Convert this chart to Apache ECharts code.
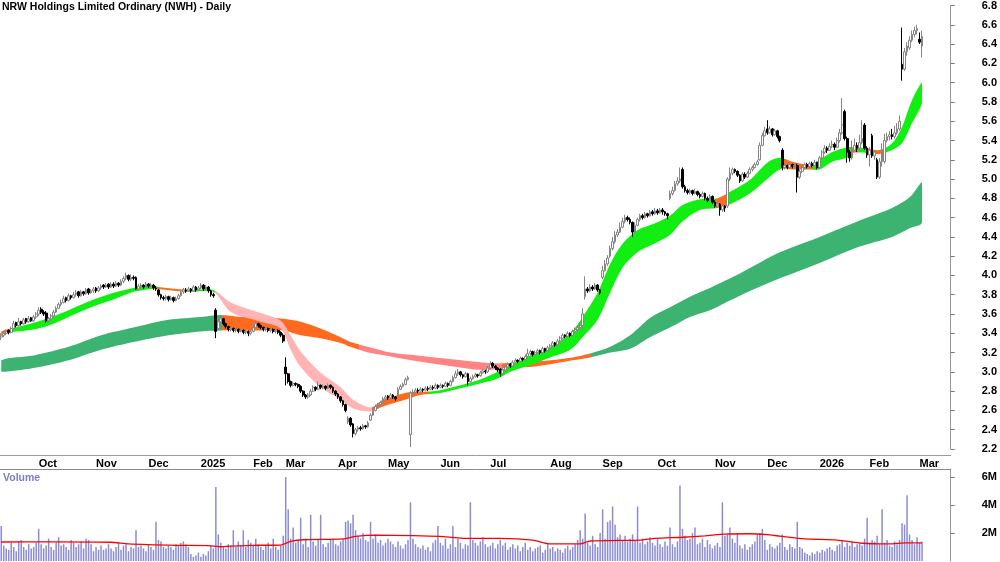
<!DOCTYPE html>
<html>
<head>
    <meta charset="UTF-8">
    <script src="https://cdn.jsdelivr.net/npm/echarts@6/dist/echarts.min.js"></script>
    <style>html, body { margin: 0; padding: 0; background: #fff; }</style>
</head>
<body>
<div id="chartMain" style="width: 1000px; height: 562px;"></div>

<script type="text/javascript">
    // month labels and the bar index where each month begins
    var monthLabels = ['Oct', 'Nov', 'Dec', '2025', 'Feb', 'Mar', 'Apr', 'May', 'Jun', 'Jul', 'Aug', 'Sep', 'Oct', 'Nov', 'Dec', '2026', 'Feb', 'Mar'];
    var monthStart = [15, 38, 59, 80, 101, 114, 135, 155, 176, 196, 220, 241, 263, 286, 307, 328, 348, 368];

    // daily bars: [open, close, low, high]
    var bars = [
        [3.36,3.38,3.33,3.40],[3.38,3.40,3.36,3.42],[3.40,3.42,3.38,3.44],[3.43,3.41,3.39,3.44],[3.41,3.45,3.40,3.47],[3.45,3.50,3.44,3.53],[3.51,3.48,3.46,3.52],[3.48,3.52,3.47,3.56],[3.52,3.50,3.48,3.53],[3.50,3.54,3.49,3.56],
        [3.55,3.52,3.50,3.56],[3.52,3.55,3.51,3.58],[3.56,3.53,3.52,3.57],[3.53,3.57,3.52,3.59],[3.57,3.60,3.55,3.62],[3.60,3.64,3.58,3.67],[3.65,3.62,3.60,3.67],[3.62,3.60,3.58,3.64],[3.61,3.53,3.51,3.63],[3.53,3.55,3.51,3.57],
        [3.55,3.58,3.54,3.60],[3.58,3.62,3.57,3.64],[3.62,3.66,3.61,3.68],[3.66,3.70,3.65,3.72],[3.70,3.72,3.68,3.75],[3.72,3.76,3.71,3.79],[3.77,3.74,3.72,3.78],[3.74,3.79,3.73,3.81],[3.79,3.77,3.75,3.80],[3.77,3.80,3.76,3.83],
        [3.80,3.82,3.78,3.85],[3.83,3.79,3.77,3.84],[3.79,3.83,3.78,3.85],[3.83,3.81,3.79,3.84],[3.81,3.85,3.80,3.87],[3.86,3.82,3.80,3.87],[3.82,3.84,3.81,3.86],[3.84,3.86,3.82,3.88],[3.87,3.84,3.82,3.88],[3.84,3.87,3.83,3.89],
        [3.87,3.89,3.85,3.91],[3.90,3.88,3.86,3.91],[3.88,3.90,3.87,3.92],[3.91,3.88,3.86,3.92],[3.88,3.91,3.87,3.93],[3.91,3.89,3.87,3.93],[3.89,3.92,3.88,3.94],[3.92,3.90,3.88,3.93],[3.90,3.94,3.89,3.96],[3.94,3.97,3.92,3.99],
        [3.97,4.00,3.95,4.03],[4.00,3.96,3.94,4.01],[3.96,3.98,3.94,4.01],[3.98,3.97,3.95,4.00],[3.98,3.86,3.85,3.99],[3.86,3.89,3.85,3.91],[3.89,3.90,3.87,3.92],[3.90,3.88,3.86,3.91],[3.88,3.91,3.87,3.93],[3.91,3.89,3.87,3.92],
        [3.89,3.90,3.88,3.92],[3.90,3.87,3.85,3.91],[3.87,3.86,3.84,3.89],[3.85,3.80,3.78,3.86],[3.80,3.77,3.75,3.81],[3.77,3.76,3.74,3.79],[3.76,3.78,3.74,3.80],[3.78,3.75,3.73,3.79],[3.75,3.77,3.74,3.79],[3.77,3.74,3.72,3.78],
        [3.74,3.76,3.73,3.78],[3.76,3.79,3.75,3.81],[3.79,3.83,3.78,3.85],[3.83,3.85,3.81,3.87],[3.85,3.84,3.82,3.87],[3.84,3.86,3.83,3.88],[3.86,3.84,3.82,3.87],[3.84,3.88,3.83,3.90],[3.88,3.85,3.83,3.89],[3.85,3.87,3.84,3.89],
        [3.87,3.90,3.86,3.92],[3.90,3.86,3.84,3.91],[3.86,3.88,3.85,3.90],[3.88,3.84,3.82,3.89],[3.84,3.80,3.78,3.85],[3.80,3.79,3.77,3.82],[3.64,3.42,3.35,3.66],[3.45,3.52,3.44,3.55],[3.52,3.55,3.50,3.57],[3.55,3.50,3.48,3.56],
        [3.50,3.47,3.45,3.51],[3.47,3.44,3.42,3.48],[3.44,3.45,3.42,3.47],[3.45,3.43,3.41,3.46],[3.43,3.44,3.41,3.46],[3.44,3.42,3.40,3.45],[3.42,3.43,3.41,3.45],[3.43,3.41,3.39,3.44],[3.41,3.42,3.39,3.44],[3.42,3.40,3.37,3.43],
        [3.40,3.42,3.38,3.44],[3.42,3.46,3.41,3.48],[3.46,3.50,3.45,3.53],[3.50,3.48,3.46,3.51],[3.48,3.46,3.44,3.49],[3.46,3.44,3.42,3.47],[3.44,3.45,3.42,3.47],[3.45,3.43,3.41,3.46],[3.43,3.44,3.41,3.46],[3.44,3.42,3.40,3.45],
        [3.42,3.43,3.40,3.45],[3.43,3.41,3.39,3.44],[3.41,3.38,3.36,3.42],[3.38,3.32,3.30,3.40],[3.05,2.98,2.86,3.15],[2.98,2.90,2.88,2.99],[2.90,2.86,2.84,2.91],[2.86,2.88,2.85,2.90],[2.88,2.87,2.85,2.89],[2.87,2.85,2.83,2.88],
        [2.85,2.80,2.78,2.86],[2.80,2.76,2.74,2.81],[2.76,2.74,2.72,2.77],[2.74,2.76,2.72,2.78],[2.76,2.80,2.75,2.82],[2.80,2.84,2.79,2.86],[2.84,2.82,2.80,2.85],[2.82,2.86,2.81,2.90],[2.86,2.84,2.82,2.87],[2.84,2.85,2.82,2.87],
        [2.85,2.83,2.81,2.86],[2.83,2.86,2.82,2.88],[2.86,2.84,2.82,2.87],[2.84,2.80,2.78,2.85],[2.80,2.77,2.75,2.81],[2.77,2.74,2.72,2.78],[2.74,2.70,2.68,2.75],[2.70,2.66,2.64,2.71],[2.66,2.60,2.58,2.67],[2.48,2.52,2.46,2.54],
        [2.52,2.45,2.43,2.53],[2.46,2.36,2.32,2.47],[2.36,2.40,2.34,2.42],[2.40,2.42,2.38,2.44],[2.42,2.41,2.39,2.44],[2.41,2.44,2.40,2.46],[2.44,2.43,2.41,2.45],[2.43,2.47,2.42,2.49],[2.50,2.55,2.49,2.57],[2.55,2.60,2.54,2.62],
        [2.60,2.64,2.59,2.66],[2.64,2.66,2.62,2.68],[2.66,2.68,2.64,2.70],[2.68,2.72,2.67,2.74],[2.72,2.74,2.70,2.76],[2.75,2.73,2.71,2.76],[2.73,2.76,2.72,2.78],[2.76,2.74,2.72,2.77],[2.74,2.72,2.70,2.75],[2.76,2.82,2.75,2.84],
        [2.82,2.85,2.81,2.87],[2.85,2.87,2.84,2.89],[2.87,2.92,2.86,2.94],[2.92,2.94,2.91,2.96],[2.35,2.78,2.22,2.80],[2.78,2.79,2.76,2.82],[2.79,2.81,2.77,2.83],[2.81,2.80,2.78,2.83],[2.80,2.82,2.78,2.84],[2.82,2.81,2.79,2.83],
        [2.81,2.83,2.80,2.85],[2.83,2.82,2.80,2.85],[2.82,2.84,2.81,2.86],[2.84,2.83,2.81,2.86],[2.83,2.86,2.82,2.88],[2.86,2.84,2.82,2.87],[2.84,2.86,2.83,2.88],[2.86,2.85,2.83,2.87],[2.85,2.88,2.84,2.90],[2.88,2.86,2.84,2.89],
        [2.86,2.90,2.85,2.92],[2.90,2.94,2.89,2.96],[2.94,2.98,2.93,3.01],[2.98,3.00,2.96,3.03],[3.00,2.97,2.95,3.01],[2.97,2.95,2.93,2.98],[2.95,2.98,2.94,3.00],[2.98,2.90,2.86,2.99],[2.90,2.93,2.89,2.95],[2.93,2.95,2.92,2.97],
        [2.95,2.97,2.94,2.99],[2.97,2.96,2.94,2.98],[2.96,2.99,2.95,3.01],[2.99,3.01,2.98,3.03],[3.01,3.00,2.98,3.02],[3.00,3.04,2.99,3.06],[3.04,3.08,3.03,3.11],[3.09,3.06,3.04,3.10],[3.06,3.04,3.02,3.07],[3.04,3.02,3.00,3.05],
        [3.03,2.98,2.95,3.04],[2.98,3.02,2.97,3.04],[3.02,3.05,3.01,3.07],[3.05,3.08,3.04,3.10],[3.08,3.06,3.04,3.09],[3.06,3.10,3.05,3.12],[3.10,3.12,3.09,3.14],[3.12,3.11,3.09,3.13],[3.11,3.14,3.10,3.16],[3.14,3.13,3.11,3.15],
        [3.13,3.16,3.12,3.18],[3.16,3.19,3.15,3.24],[3.19,3.21,3.17,3.23],[3.21,3.18,3.16,3.22],[3.18,3.20,3.17,3.22],[3.20,3.22,3.19,3.24],[3.22,3.20,3.18,3.23],[3.20,3.24,3.19,3.26],[3.24,3.22,3.20,3.25],[3.22,3.25,3.21,3.27],
        [3.25,3.27,3.24,3.29],[3.27,3.30,3.26,3.32],[3.30,3.28,3.26,3.31],[3.28,3.32,3.27,3.34],[3.32,3.35,3.31,3.37],[3.35,3.38,3.34,3.40],[3.38,3.37,3.35,3.39],[3.37,3.40,3.36,3.42],[3.40,3.38,3.36,3.41],[3.38,3.42,3.37,3.44],
        [3.42,3.44,3.41,3.46],[3.44,3.46,3.43,3.48],[3.46,3.48,3.44,3.51],[3.48,3.60,3.43,3.66],[3.78,3.86,3.75,3.99],[3.86,3.84,3.82,3.88],[3.84,3.88,3.83,3.91],[3.88,3.86,3.84,3.90],[3.86,3.90,3.85,3.92],[3.90,3.85,3.83,3.91],
        [3.85,3.82,3.80,3.86],[3.98,4.05,3.96,4.10],[4.05,4.12,4.04,4.16],[4.12,4.18,4.10,4.21],[4.20,4.28,4.18,4.31],[4.28,4.35,4.26,4.40],[4.35,4.42,4.33,4.46],[4.42,4.45,4.40,4.48],[4.45,4.50,4.44,4.55],[4.50,4.56,4.49,4.60],
        [4.56,4.60,4.54,4.63],[4.60,4.58,4.56,4.62],[4.58,4.55,4.53,4.60],[4.55,4.45,4.40,4.56],[4.45,4.52,4.44,4.55],[4.52,4.58,4.51,4.60],[4.58,4.62,4.56,4.64],[4.62,4.60,4.58,4.64],[4.60,4.64,4.59,4.66],[4.64,4.62,4.60,4.65],
        [4.62,4.66,4.61,4.68],[4.66,4.64,4.62,4.68],[4.64,4.67,4.63,4.70],[4.67,4.65,4.63,4.69],[4.65,4.68,4.64,4.70],[4.68,4.66,4.63,4.70],[4.66,4.64,4.62,4.67],[4.64,4.62,4.58,4.65],[4.80,4.85,4.78,4.88],[4.85,4.88,4.83,4.92],
        [4.88,4.95,4.87,4.98],[4.95,4.98,4.93,5.02],[4.98,5.00,4.96,5.12],[5.10,4.92,4.90,5.12],[4.92,4.88,4.86,4.94],[4.88,4.86,4.84,4.90],[4.86,4.88,4.84,4.90],[4.88,4.85,4.83,4.89],[4.85,4.87,4.84,4.90],[4.87,4.84,4.82,4.88],
        [4.84,4.82,4.80,4.86],[4.82,4.85,4.81,4.87],[4.85,4.80,4.78,4.86],[4.80,4.78,4.76,4.82],[4.78,4.82,4.77,4.84],[4.82,4.76,4.74,4.83],[4.76,4.72,4.70,4.78],[4.72,4.74,4.70,4.76],[4.74,4.68,4.62,4.75],[4.68,4.72,4.66,4.74],
        [4.72,4.70,4.66,4.73],[4.72,5.00,4.70,5.02],[5.00,5.06,4.98,5.12],[5.06,5.10,5.04,5.12],[5.10,5.08,5.06,5.11],[5.08,5.04,5.02,5.09],[5.04,4.98,4.96,5.05],[4.98,5.05,4.97,5.07],[5.05,5.02,5.00,5.07],[5.02,5.06,5.01,5.08],
        [5.06,5.10,5.05,5.12],[5.10,5.12,5.08,5.14],[5.12,5.15,5.11,5.17],[5.15,5.18,5.14,5.20],[5.20,5.35,5.19,5.38],[5.35,5.45,5.34,5.48],[5.45,5.50,5.44,5.54],[5.52,5.48,5.46,5.61],[5.48,5.52,5.47,5.55],[5.52,5.46,5.44,5.53],
        [5.46,5.50,5.45,5.52],[5.50,5.44,5.42,5.51],[5.44,5.40,5.38,5.45],[5.30,5.12,5.09,5.32],[5.12,5.14,5.10,5.16],[5.14,5.12,5.10,5.15],[5.12,5.15,5.11,5.17],[5.15,5.13,5.11,5.16],[5.13,5.14,5.11,5.17],[5.14,5.02,4.86,5.16],
        [5.02,5.08,5.00,5.10],[5.08,5.12,5.06,5.14],[5.12,5.15,5.10,5.17],[5.15,5.13,5.11,5.17],[5.13,5.16,5.12,5.18],[5.16,5.14,5.12,5.18],[5.14,5.17,5.13,5.20],[5.17,5.12,5.10,5.18],[5.12,5.22,5.11,5.24],[5.22,5.28,5.20,5.30],
        [5.28,5.32,5.26,5.35],[5.32,5.30,5.27,5.34],[5.30,5.34,5.29,5.37],[5.34,5.36,5.32,5.40],[5.36,5.33,5.30,5.38],[5.33,5.40,5.32,5.43],[5.40,5.48,5.38,5.52],[5.48,5.56,5.46,5.84],[5.70,5.42,5.40,5.72],[5.42,5.28,5.17,5.44],
        [5.28,5.22,5.18,5.30],[5.22,5.30,5.20,5.40],[5.30,5.35,5.28,5.42],[5.35,5.32,5.28,5.38],[5.32,5.38,5.30,5.46],[5.38,5.42,5.36,5.61],[5.56,5.32,5.30,5.58],[5.32,5.25,5.22,5.34],[5.25,5.30,5.13,5.33],[5.45,5.24,5.22,5.47],
        [5.24,5.28,5.20,5.30],[5.20,5.02,5.00,5.22],[5.02,5.18,5.00,5.22],[5.18,5.30,5.13,5.37],[5.18,5.40,5.16,5.47],[5.40,5.44,5.38,5.48],[5.44,5.46,5.40,5.50],[5.46,5.44,5.41,5.52],[5.44,5.48,5.42,5.55],[5.48,5.52,5.46,5.58],
        [5.52,5.60,5.50,5.66],[6.19,6.14,6.02,6.57],[6.14,6.32,6.12,6.36],[6.32,6.38,6.28,6.42],[6.36,6.44,6.34,6.48],[6.44,6.50,6.42,6.54],[6.50,6.54,6.47,6.58],[6.54,6.56,6.50,6.60],[6.45,6.42,6.40,6.52],[6.38,6.48,6.26,6.54]
    ];

    // daily volume, millions of shares
    var volumeM = [
        2.5, 1.1, 0.9, 0.8, 1.3, 1.0, 0.7, 1.4, 1.5, 1.0,
        0.8, 1.2, 0.9, 1.0, 1.3, 2.3, 1.2, 0.9, 1.1, 1.6,
        1.0, 0.8, 1.3, 1.7, 1.1, 1.2, 1.0, 0.8, 1.5, 1.3,
        1.0, 1.2, 1.4, 0.9, 1.6, 1.5, 1.2, 0.7, 1.0, 0.8,
        1.1, 0.8, 0.9, 1.2, 0.9, 0.7, 1.0, 1.3, 0.8, 1.1,
        1.2, 0.7, 1.0, 0.9, 2.2, 1.0, 1.1, 0.9, 0.7, 1.2,
        1.0, 0.8, 2.8, 1.5, 1.4, 1.0, 0.9, 1.1, 1.0, 0.8,
        1.2, 1.1, 1.3, 1.4, 1.2, 1.0, 0.5, 0.3, 0.4, 0.6,
        0.3, 0.5, 0.4, 0.7, 1.1, 0.9, 5.3, 1.9, 1.3, 1.0,
        0.9, 1.2, 1.1, 2.2, 1.0, 1.4, 1.1, 2.2, 1.0, 1.5,
        1.3, 1.1, 1.6, 1.2, 1.0, 0.8, 1.1, 1.3, 0.9, 1.6,
        1.0, 0.8, 1.1, 1.8, 6.0, 3.7, 1.6, 2.4, 1.3, 1.5,
        3.1, 1.2, 1.6, 1.0, 3.3, 1.4, 1.1, 1.5, 3.3, 1.2,
        1.0, 1.3, 1.5, 1.6, 1.2, 1.1, 1.4, 1.6, 2.8, 2.9,
        2.7, 3.3, 2.2, 1.8, 1.6, 2.0, 1.5, 1.4, 2.8, 1.6,
        1.9, 1.3, 1.5, 1.1, 1.3, 1.6, 1.4, 1.2, 1.0, 1.4,
        1.1, 0.9, 1.2, 1.5, 4.2, 1.6, 1.2, 1.0, 0.9, 1.1,
        0.8, 1.0, 0.7, 1.3, 1.5, 2.5, 1.3, 1.1, 1.6, 0.9,
        1.2, 2.5, 1.0, 1.6, 1.3, 0.9, 1.2, 1.1, 4.2, 1.5,
        1.3, 1.1, 1.4, 1.7, 1.2, 1.0, 1.1, 1.3, 0.9, 1.2,
        1.5, 1.1, 1.3, 0.8, 1.0, 1.2, 0.9, 1.1, 0.7, 1.0,
        1.3, 0.8, 1.0, 0.7, 0.9, 1.0, 1.1, 0.6, 0.8, 1.2,
        0.9, 1.0, 0.7, 0.9, 0.8, 0.6, 0.9, 1.1, 0.8, 1.0,
        1.2, 1.5, 2.2, 1.6, 3.4, 1.3, 1.1, 1.8, 1.2, 1.0,
        2.0, 3.7, 1.6, 2.8, 2.9, 3.9, 2.6, 1.7, 1.9, 1.5,
        1.8, 1.4, 1.6, 1.9, 1.5, 3.9, 1.3, 1.6, 1.2, 1.4,
        1.7, 1.3, 1.1, 1.6, 1.2, 1.0, 1.4, 1.1, 2.4, 1.2,
        1.0, 1.4, 5.4, 2.3, 1.8, 1.5, 1.6, 2.0, 2.4, 1.2,
        1.3, 1.6, 1.0, 1.5, 1.2, 0.9, 1.1, 1.3, 1.0, 4.2,
        1.8, 1.9, 2.4, 1.6, 1.3, 2.0, 1.1, 0.9, 1.2, 0.8,
        1.0, 1.2, 1.4, 1.9, 2.0, 2.3, 1.5, 0.8, 1.2, 1.0,
        0.9, 1.1, 1.3, 1.9, 1.0, 0.8, 1.2, 1.0, 0.9, 2.8,
        1.0, 0.9, 0.6, 0.5, 0.4, 0.6, 0.5, 0.7, 0.6, 0.8,
        0.7, 0.9, 1.0, 0.8, 0.7, 1.1, 1.2, 1.5, 1.0, 1.3,
        1.1, 1.4, 1.0, 1.2, 1.3, 1.1, 1.6, 3.1, 1.3, 1.5,
        1.4, 1.8, 1.2, 3.7, 1.3, 1.5, 1.1, 1.0, 1.4, 1.2,
        1.5, 2.7, 2.6, 4.7, 1.9, 1.5, 1.2, 1.7, 1.3, 1.4
    ];

    // short-term moving average band, read at these bar indices
    var shortIdx = [0, 4, 13, 19, 27, 36, 45, 53, 60, 63, 70, 76, 85, 92, 104, 112, 116, 120, 128, 136, 141, 148, 153, 159, 164, 168, 176, 184, 192, 199, 204, 212, 220, 228, 233, 239, 244, 249, 255, 261, 268, 273, 280, 287, 293, 300, 307, 312, 317, 324, 328, 333, 339, 341, 347, 352, 357, 361, 365, 369];
    var shortLo = [3.38, 3.41, 3.44, 3.48, 3.57, 3.67, 3.75, 3.83, 3.86, 3.86, 3.84, 3.83, 3.83, 3.62, 3.52, 3.45, 3.23, 3.05, 2.84, 2.71, 2.62, 2.59, 2.64, 2.69, 2.73, 2.76, 2.78, 2.83, 2.88, 2.93, 3.00, 3.07, 3.15, 3.23, 3.36, 3.54, 3.82, 4.08, 4.24, 4.32, 4.42, 4.56, 4.68, 4.70, 4.75, 4.85, 5.00, 5.10, 5.10, 5.10, 5.10, 5.18, 5.22, 5.27, 5.27, 5.26, 5.30, 5.37, 5.58, 5.79];
    var shortHi = [3.42, 3.45, 3.51, 3.56, 3.64, 3.74, 3.82, 3.87, 3.90, 3.88, 3.86, 3.85, 3.85, 3.72, 3.61, 3.53, 3.38, 3.21, 2.99, 2.84, 2.71, 2.63, 2.71, 2.76, 2.79, 2.79, 2.81, 2.86, 2.92, 3.00, 3.07, 3.17, 3.26, 3.40, 3.57, 3.82, 4.12, 4.33, 4.47, 4.53, 4.62, 4.73, 4.79, 4.80, 4.88, 4.99, 5.17, 5.22, 5.18, 5.15, 5.20, 5.28, 5.33, 5.33, 5.32, 5.30, 5.37, 5.54, 5.82, 6.00];
    // [first bar, trend] for the short band colour
    var shortTrend = [[0, 'weak'], [4, 'up'], [63, 'weak'], [75, 'up'], [86, 'down'], [149, 'weak'], [172, 'up'], [287, 'weak'], [292, 'up'], [313, 'weak'], [326, 'up'], [341, 'weak'], [344, 'up'], [347, 'weak'], [354, 'up']];

    // long-term moving average band
    var longIdx = [0, 13, 27, 40, 53, 67, 80, 88, 96, 104, 113, 120, 128, 136, 140, 147, 156, 167, 177, 188, 196, 201, 212, 220, 229, 236, 244, 252, 260, 268, 276, 284, 296, 312, 328, 344, 357, 364, 369];
    var longLo = [3.00, 3.04, 3.12, 3.23, 3.31, 3.38, 3.42, 3.43, 3.43, 3.43, 3.43, 3.38, 3.35, 3.30, 3.26, 3.20, 3.16, 3.11, 3.07, 3.03, 3.02, 3.04, 3.05, 3.08, 3.12, 3.15, 3.20, 3.24, 3.36, 3.46, 3.57, 3.64, 3.79, 3.97, 4.13, 4.30, 4.40, 4.49, 4.55];
    var longHi = [3.12, 3.17, 3.26, 3.38, 3.46, 3.54, 3.57, 3.59, 3.57, 3.57, 3.55, 3.52, 3.45, 3.36, 3.31, 3.26, 3.20, 3.17, 3.14, 3.11, 3.09, 3.09, 3.10, 3.12, 3.15, 3.19, 3.26, 3.38, 3.56, 3.67, 3.78, 3.87, 4.02, 4.24, 4.40, 4.57, 4.70, 4.81, 4.97];
    var longTrend = [[0, 'up'], [89, 'weak'], [144, 'down'], [201, 'weak'], [237, 'up']];

    // volume moving average (millions)
    var volMaIdx = [0, 20, 44, 51, 70, 83, 88, 100, 112, 116, 121, 137, 142, 150, 165, 176, 185, 200, 213, 220, 232, 236, 256, 262, 273, 282, 290, 300, 307, 312, 322, 335, 345, 356, 362, 369];
    var volMa = [1.36, 1.37, 1.34, 1.22, 1.12, 1.10, 1.02, 1.12, 1.14, 1.40, 1.52, 1.58, 1.76, 1.85, 1.82, 1.76, 1.62, 1.62, 1.50, 1.22, 1.22, 1.43, 1.50, 1.62, 1.70, 1.80, 1.92, 1.95, 1.88, 1.78, 1.58, 1.50, 1.27, 1.22, 1.30, 1.30];

    var SLOTS = 381; // bars plus the empty room before the price axis

    var shortColors = {up: '#12ee12', weak: '#ff6a1f', down: '#ffb3b3'};
    var longColors = {up: '#3cb371', weak: '#ff6a1f', down: '#ff8585'};

    var cats = [];
    var labelAt = {};
    for (var i = 0; i < SLOTS; i++) cats.push(String(i));
    for (var k = 0; k < monthStart.length; k++) labelAt[monthStart[k]] = monthLabels[k];
    function isMonthStart(idx) { return labelAt[idx] !== undefined; }

    // one filled ribbon between lo and hi, coloured by trend along x
    function bandSeries(idx, lo, hi, trend, colors) {
        return {
            type: 'custom', xAxisIndex: 1, yAxisIndex: 0, silent: true, z: 1,
            data: [[0, 3]],
            renderItem: function (params, api) {
                var pts = [];
                var j;
                for (j = 0; j < idx.length; j++) pts.push(api.coord([idx[j], hi[j]]));
                for (j = idx.length - 1; j >= 0; j--) pts.push(api.coord([idx[j], lo[j]]));
                var xa = api.coord([-0.5, 3])[0];
                var xb = api.coord([SLOTS - 0.5, 3])[0];
                var stops = [];
                trend.forEach(function (t, n) {
                    var a = n === 0 ? -0.5 : t[0] - 0.5;
                    var b = n + 1 < trend.length ? trend[n + 1][0] - 0.5 : SLOTS - 0.5;
                    var c = colors[t[1]];
                    stops.push({offset: (api.coord([a, 3])[0] - xa) / (xb - xa), color: c});
                    stops.push({offset: (api.coord([b, 3])[0] - xa) / (xb - xa), color: c});
                });
                return {
                    type: 'polygon',
                    shape: {
                        points: pts, smooth: 0.3,
                        smoothConstraint: [pts[0].slice(), pts[0].slice()]
                    },
                    style: {
                        fill: {type: 'linear', x: xa, y: 0, x2: xb, y2: 0, colorStops: stops, global: true},
                        stroke: null
                    }
                };
            }
        };
    }

    var boldLabel = {fontSize: 11, fontWeight: 'bold', color: '#000', fontFamily: 'Liberation Sans'};

    var myChart = echarts.init(document.getElementById('chartMain'));
    var option = {
        animation: false,
        backgroundColor: '#fff',
        textStyle: {fontFamily: 'Liberation Sans'},
        title: [
            {
                text: 'NRW Holdings Limited Ordinary (NWH) - Daily', left: 2, top: 2, padding: 0,
                textStyle: {fontSize: 10.5, fontWeight: 'bold', color: '#000', fontFamily: 'Liberation Sans'}
            },
            {
                text: 'Volume', left: 3, top: 473, padding: 0,
                textStyle: {fontSize: 10.5, fontWeight: 'bold', color: '#7d7dc2', fontFamily: 'Liberation Sans'}
            }
        ],
        grid: [
            {left: 0, right: 48, top: 5, height: 444},
            {left: 0, right: 48, top: 469, height: 92}
        ],
        xAxis: [
            {
                type: 'category', gridIndex: 0, data: cats, offset: 6,
                axisLine: {onZero: false, lineStyle: {color: '#9a9a9a'}},
                axisTick: {interval: isMonthStart, length: 3, lineStyle: {color: '#777'}},
                axisLabel: Object.assign({
                    interval: isMonthStart, align: 'left', margin: 3,
                    formatter: function (v, idx) { return labelAt[idx] || ''; }
                }, boldLabel),
                splitLine: {show: false}
            },
            {type: 'value', gridIndex: 0, min: -0.5, max: SLOTS - 0.5, show: false},
            {
                type: 'category', gridIndex: 1, data: cats, position: 'top',
                axisLine: {onZero: false, lineStyle: {color: '#8a8a8a'}},
                axisTick: {show: false}, axisLabel: {show: false}, splitLine: {show: false}
            },
            {type: 'value', gridIndex: 1, min: -0.5, max: SLOTS - 0.5, show: false}
        ],
        yAxis: [
            {
                type: 'value', gridIndex: 0, position: 'right', min: 2.2, max: 6.8, interval: 0.2,
                axisLine: {show: true, onZero: false, lineStyle: {color: '#9a9a9a'}},
                axisTick: {show: true, length: 4, lineStyle: {color: '#777'}},
                axisLabel: Object.assign({margin: 31, formatter: function (v) { return v.toFixed(1); }}, boldLabel),
                splitLine: {show: false}
            },
            {
                type: 'value', gridIndex: 1, position: 'right', min: 0, max: 6.58, interval: 2,
                axisLine: {show: true, onZero: false, lineStyle: {color: '#9a9a9a'}},
                axisTick: {show: true, length: 4, lineStyle: {color: '#777'}},
                axisLabel: Object.assign({
                    margin: 31, showMinLabel: false, showMaxLabel: false,
                    formatter: function (v) { return v + 'M'; }
                }, boldLabel),
                splitLine: {show: false}
            }
        ],
        series: [
            bandSeries(longIdx, longLo, longHi, longTrend, longColors),
            bandSeries(shortIdx, shortLo, shortHi, shortTrend, shortColors),
            {
                type: 'candlestick', xAxisIndex: 0, yAxisIndex: 0, data: bars, barWidth: 2.2, z: 3,
                itemStyle: {color: '#fff', color0: '#000', borderColor: '#858585', borderColor0: '#000', borderWidth: 1}
            },
            {
                type: 'bar', xAxisIndex: 2, yAxisIndex: 1, data: volumeM, barWidth: 1.5,
                itemStyle: {color: '#8c8cd4'}
            },
            {
                type: 'line', xAxisIndex: 3, yAxisIndex: 1, symbol: 'none', smooth: 0.2,
                lineStyle: {color: '#ff0000', width: 1.3},
                data: volMaIdx.map(function (x, j) { return [x, volMa[j]]; })
            }
        ]
    };
    myChart.setOption(option);
</script>
</body>
</html>
